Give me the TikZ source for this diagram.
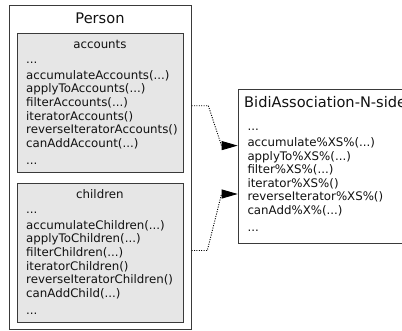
\documentclass[tikz,border=0pt]{standalone}
\usepackage{fontspec}
\setmainfont{DejaVu Sans}
\usetikzlibrary{arrows.meta}
\definecolor{compfill}{HTML}{E6E6E6}
\definecolor{edgecol}{HTML}{3A3A3A}
\definecolor{txtcol}{HTML}{111111}

\begin{document}
\begin{tikzpicture}[x=1pt,y=-1pt,
  box/.style={draw=edgecol, line width=0.9pt, inner sep=0pt, anchor=north west, fill=white},
  compartment/.style={box, fill=compfill},
  title/.style={inner sep=0pt, anchor=base, text=txtcol, font=\fontsize{14.6}{16}\selectfont},
  label/.style={inner sep=0pt, anchor=base, text=txtcol, font=\fontsize{11.8}{13.6}\selectfont},
  member/.style={inner sep=0pt, anchor=base west, text=txtcol, font=\fontsize{11.8}{13.6}\selectfont},
  assoc/.style={draw=black, line width=0.9pt, dash pattern=on 1pt off 1.4pt,
    -{Triangle[length=16pt,width=9pt]}}]
\useasboundingbox (0,0) rectangle (402,330);
\clip (0,0) rectangle (402,330);

% outer class and its two association compartments
\node[box, minimum width=181.4pt, minimum height=324.3pt] (person) at (9.3,5) {};
\node[title] (person-name) at (100,23.3) {Person};

\node[compartment, minimum width=166.3pt, minimum height=139.5pt] (accounts) at (16.7,32.7) {};
\node[label] (accounts-name) at (99.9,48) {accounts};
\node[member] (acc-0) at (26,63) {...};
\node[member] (acc-1) at (26,79.3) {accumulateAccounts(...)};
\node[member] (acc-2) at (26,92.9) {applyToAccounts(...)};
\node[member] (acc-3) at (26,106.5) {filterAccounts(...)};
\node[member] (acc-4) at (26,120.1) {iteratorAccounts()};
\node[member] (acc-5) at (26,133.7) {reverseIteratorAccounts()};
\node[member] (acc-6) at (26,147.3) {canAddAccount(...)};
\node[member] (acc-7) at (26,164) {...};

\node[compartment, minimum width=166.3pt, minimum height=139.5pt] (children) at (16.7,182.8) {};
\node[label] (children-name) at (99.9,198) {children};
\node[member] (chi-0) at (26,213) {...};
\node[member] (chi-1) at (26,229.3) {accumulateChildren(...)};
\node[member] (chi-2) at (26,242.9) {applyToChildren(...)};
\node[member] (chi-3) at (26,256.5) {filterChildren(...)};
\node[member] (chi-4) at (26,270.1) {iteratorChildren()};
\node[member] (chi-5) at (26,283.7) {reverseIteratorChildren()};
\node[member] (chi-6) at (26,297.3) {canAddChild(...)};
\node[member] (chi-7) at (26,314) {...};

% generic association side
\node[box, minimum width=171.3pt, minimum height=154.3pt] (bidi) at (237.7,89) {};
\node[title, anchor=base west] (bidi-name) at (244,107.3) {BidiAssociation-N-side};
\node[member] (bid-0) at (247.3,130) {...};
\node[member] (bid-1) at (247.3,146.5) {accumulate\%XS\%(...)};
\node[member] (bid-2) at (247.3,160.1) {applyTo\%XS\%(...)};
\node[member] (bid-3) at (247.3,173.7) {filter\%XS\%(...)};
\node[member] (bid-4) at (247.3,187.3) {iterator\%XS\%()};
\node[member] (bid-5) at (247.3,200.9) {reverseIterator\%XS\%()};
\node[member] (bid-6) at (247.3,214.5) {canAdd\%X\%(...)};
\node[member] (bid-7) at (247.3,231) {...};

% association connectors
\coordinate (acc-out) at (person.east |- 0,105.7);
\coordinate (acc-bend) at (208.3,105.7);
\coordinate (acc-in) at (bidi.west |- 0,145.6);
\coordinate (acc-knee) at (221.5,145.6);
\draw[assoc] (acc-out) -- (acc-bend) -- (acc-knee) -- (acc-in);

\coordinate (chi-out) at (person.east |- 0,250.5);
\coordinate (chi-bend) at (207.3,250.5);
\coordinate (chi-in) at (bidi.west |- 0,194);
\coordinate (chi-knee) at (221.5,194);
\draw[assoc] (chi-out) -- (chi-bend) -- (chi-knee) -- (chi-in);
\end{tikzpicture}
\end{document}
